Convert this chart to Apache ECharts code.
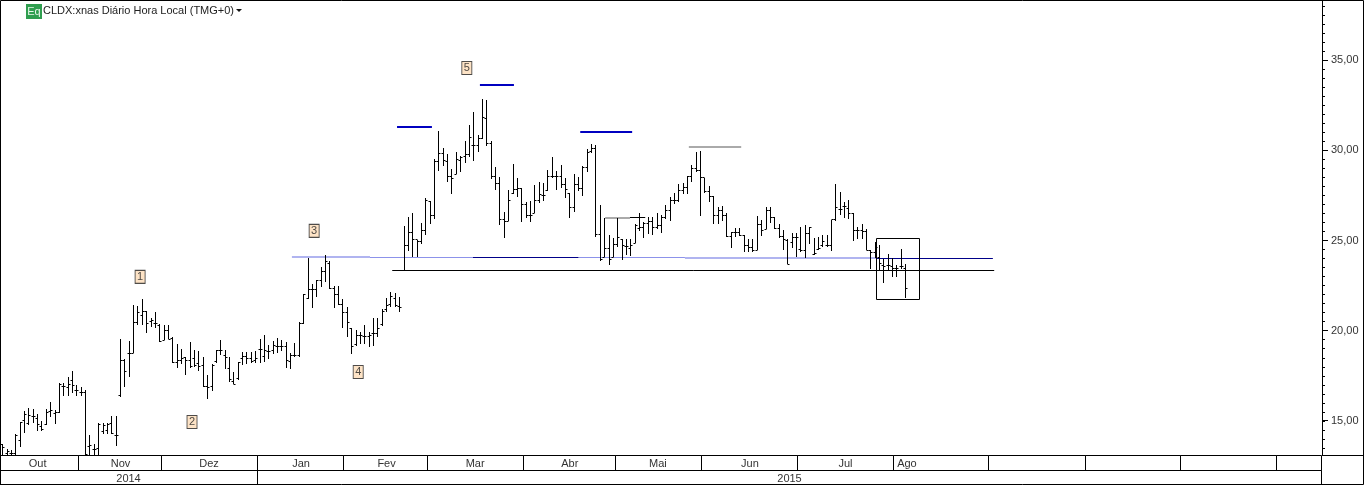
<!DOCTYPE html>
<html><head><meta charset="utf-8">
<style>html,body{margin:0;padding:0;background:#fff}#c{width:1364px;height:485px}</style>
<script src="https://cdn.jsdelivr.net/npm/echarts@6/dist/echarts.min.js"></script>
</head><body><div id="c"></div>
<script>
const highs=[13.71,13.44,13.38,14.27,14.95,15.54,15.69,15.65,15.41,15.0,
15.64,16.04,15.6,17.08,17.08,17.45,17.76,16.98,16.86,16.74,
14.21,13.7,14.86,14.9,14.9,15.28,15.28,19.53,18.41,19.42,
21.42,21.36,21.75,21.11,20.72,21.01,20.35,20.31,20.31,19.66,
19.26,18.96,18.56,19.35,18.92,18.87,18.52,17.54,18.13,18.92,
19.48,18.92,18.52,17.72,18.28,18.8,18.83,18.83,18.87,19.54,
19.76,19.2,19.45,19.58,19.48,19.39,18.75,19.34,20.46,22.02,
24.01,22.59,22.81,23.51,24.2,23.86,22.5,22.5,21.76,21.29,
20.13,20.04,19.95,20.32,19.95,20.69,20.69,21.18,21.83,22.16,
22.07,21.85,25.8,26.28,26.5,25.03,25.95,27.34,27.19,29.52,
31.07,30.11,29.79,28.99,29.89,29.68,30.51,31.4,32.1,30.85,
32.82,32.79,30.51,29.05,28.54,26.56,27.8,29.22,28.45,27.89,
27.11,27.19,28.08,28.22,28.17,28.91,29.61,28.87,29.18,28.45,
27.61,28.67,28.5,29.13,30.07,30.33,30.27,26.97,26.23,25.3,
25.12,26.23,25.08,25.08,25.08,25.89,26.5,26.0,26.28,26.28,
26.5,26.41,26.98,27.39,27.66,28.11,28.16,28.57,29.18,29.88,
29.96,28.48,28.0,27.48,26.83,26.91,26.5,25.48,25.67,25.72,
25.3,25.06,25.11,26.35,26.13,26.83,26.87,26.28,25.9,25.58,
25.07,25.4,25.4,25.77,25.86,25.77,25.15,25.21,25.31,25.3,
26.14,28.13,27.67,27.12,27.25,26.54,25.73,25.9,25.62,24.47,
24.94,24.75,23.98,24.25,24.01,23.64,24.53,23.68];
const lows=[13.0,13.0,13.0,13.0,13.57,14.34,14.77,14.86,14.45,14.45,
14.77,15.23,14.82,15.45,16.37,16.37,16.56,16.37,16.37,13.0,
13.0,13.1,13.1,14.3,14.3,14.25,13.62,16.34,16.86,17.45,
18.74,20.31,20.31,19.85,20.18,20.13,19.39,19.48,19.52,18.19,
17.96,18.13,17.54,17.96,18.0,17.78,16.89,16.21,16.67,18.22,
18.65,17.87,17.17,17.02,17.26,18.09,18.15,18.19,18.22,18.19,
18.28,18.43,18.69,18.75,18.87,17.95,17.88,18.56,18.56,20.35,
21.76,21.28,21.89,22.44,22.72,22.29,21.28,21.42,20.17,19.67,
18.69,19.17,19.24,19.26,19.11,19.17,19.67,20.28,21.05,21.29,
21.33,21.02,23.36,24.42,24.1,24.07,24.8,25.3,25.91,26.19,
28.87,29.15,28.26,27.58,28.67,28.81,29.31,29.65,29.42,29.92,
30.63,30.24,28.39,27.8,25.86,25.16,26.08,27.58,27.43,26.04,
26.23,26.04,26.5,27.06,27.21,27.76,28.45,27.8,27.93,27.34,
26.26,26.6,27.76,27.48,28.81,29.83,25.21,23.88,24.07,23.64,
24.07,24.66,23.92,24.19,24.15,24.84,25.52,25.15,25.36,25.3,
25.61,25.43,26.17,26.09,27.0,27.15,27.55,27.55,28.26,28.81,
26.37,27.61,27.15,25.91,25.91,26.09,25.17,24.6,25.21,25.24,
24.37,24.37,24.37,24.47,25.24,25.63,25.95,25.63,25.12,24.48,
23.68,24.57,24.1,24.38,24.01,24.79,24.2,24.45,24.66,24.66,
24.44,26.1,26.41,26.23,26.19,24.99,25.07,25.07,24.47,23.42,
24.01,23.37,22.63,23.37,22.96,23.0,23.4,21.83];
const opens=[13.71,13.2,13.2,13.2,13.9,15.05,14.86,15.23,15.14,14.67,
14.8,15.5,15.41,15.47,16.89,16.85,17.26,16.71,16.56,16.56,
13.6,13.42,13.47,14.43,14.49,14.86,14.21,16.43,18.33,18.74,
18.74,20.46,20.87,21.05,20.5,20.4,20.31,19.48,20.03,19.57,
18.22,18.37,18.52,18.37,18.46,18.18,18.09,16.93,16.89,18.28,
18.92,18.65,17.91,17.17,17.35,18.46,18.56,18.46,18.37,18.97,
18.56,18.84,18.93,19.15,19.11,19.11,18.28,18.62,18.62,20.41,
21.79,22.31,22.26,22.81,23.27,23.73,22.35,21.98,21.46,21.02,
20.1,19.21,19.76,19.67,19.67,19.82,19.85,20.32,21.15,21.46,
21.79,21.33,23.36,24.71,25.43,25.03,24.93,25.58,27.15,26.41,
29.37,29.83,29.37,28.57,28.67,29.46,29.68,29.78,30.29,30.29,
30.66,31.77,30.35,28.54,28.17,26.19,26.08,27.58,27.84,27.89,
26.97,26.41,26.5,27.24,27.52,27.76,28.57,28.57,28.57,28.11,
27.61,26.82,28.08,27.89,29.05,29.92,30.11,25.34,24.07,24.56,
24.07,24.79,25.08,24.66,24.56,24.84,25.67,25.72,25.95,26.04,
25.71,25.82,26.28,26.68,27.2,27.2,27.79,27.94,28.53,28.99,
28.87,28.48,27.7,27.42,26.41,26.68,26.41,25.21,25.43,25.43,
25.3,24.74,24.62,24.47,25.89,25.63,26.68,26.28,25.67,25.2,
25.02,24.9,25.15,24.5,24.43,25.39,24.2,24.5,24.7,24.75,
24.7,26.14,26.73,26.88,26.78,26.51,25.58,25.58,25.49,24.47,
24.33,24.07,23.64,23.59,23.55,23.42,23.55,23.46];
const closes=[13.5,13.3,13.2,14.2,14.9,15.38,15.3,15.23,14.82,14.53,
15.45,15.56,15.47,17.04,16.89,17.04,16.98,16.71,16.56,13.14,
13.66,13.42,14.82,14.77,14.8,14.3,14.21,18.33,17.76,18.74,
20.46,20.99,21.05,20.4,20.55,20.4,19.42,20.03,19.53,18.22,
18.33,18.46,18.37,18.0,18.09,18.0,16.89,16.86,18.09,18.89,
18.92,18.52,17.3,17.04,18.22,18.56,18.46,18.28,18.46,18.97,
18.93,18.84,19.2,19.15,19.11,18.34,18.62,18.65,20.41,22.0,
22.31,22.31,22.77,23.27,23.83,22.35,21.98,21.46,21.02,20.46,
19.15,19.76,19.76,19.67,19.76,19.82,20.13,21.05,21.42,21.89,
21.39,21.28,24.71,25.45,25.03,24.93,25.58,27.19,26.41,29.37,
29.83,29.41,28.57,28.45,29.5,29.59,29.78,30.72,30.29,30.66,
31.83,30.35,28.54,28.17,26.19,26.04,27.19,27.84,27.89,26.97,
26.41,26.41,27.24,27.56,27.52,28.57,28.57,28.57,28.11,27.84,
26.82,28.11,27.89,29.05,29.87,30.11,25.34,23.95,24.56,23.95,
24.79,25.17,24.75,24.66,24.71,25.85,25.72,25.95,26.04,25.71,
25.82,26.28,26.68,27.2,27.2,27.79,27.94,28.53,28.99,28.87,
28.5,27.7,27.42,26.41,26.68,26.41,25.21,25.43,25.43,25.3,
24.74,24.62,24.43,25.89,25.58,26.68,26.28,25.67,25.2,25.06,
23.68,25.15,25.15,24.43,25.39,25.73,24.3,24.55,24.94,24.75,
26.14,26.84,26.73,26.88,26.51,25.58,25.58,25.49,24.47,24.33,
24.62,23.74,23.55,23.59,23.46,23.42,23.55,22.35];

const priceLabels=[15,20,25,30,35];
const priceTicks=[];for(let t=13.5;t<=38;t+=0.5)priceTicks.push(t);

const monthNames=['Out','Nov','Dez','Jan','Fev','Mar','Abr','Mai','Jun','Jul','Ago'];
const monthLabelAt=[8,27,47.3,68.4,88,108.3,130,150.2,171.3,193.2,207.3];
const monthEdges=[-0.62,17.3,36.3,58.3,78.2,97.3,119.3,140.4,160.2,182.3,204.3,226.1,248.3,269.9,292.1,302.45];
const yearNames=['2014','2015'];
const yearEdges=[-0.62,58.3,302.45];

const waveLabels=['1','2','3','4','5'];
const waveAt=[31.5,43.4,71.4,81.5,106.4];
const waveValue=[22.98,14.94,25.53,17.71,34.56];

// level lines: [from bar, to bar, price]
const paleThick=[[66.3,84.2,24.07],[156.4,200.3,24.03]];
const paleThin=[[84.2,107.8,24.06],[132,156.4,24.05]];
const navyThin=[[107.8,132,24.06],[200.3,227,24.02]];
const blueHeavy=[[90.4,98.4,31.29],[109.4,117.2,33.62],[132.4,144.3,31.0]];
const greyLevels=[[157.3,169.3,30.18],[138.1,143.8,26.25]];
const blackLevels=[[89.3,227.3,23.34],[143.8,147.3,26.25]];
const boxRange=[[200.3,210.1,25.12,21.74]];

const snap=v=>Math.floor(v)+0.5;
const INK='#000';
const X_MIN=-0.62,X_MAX=302.45;

function barItem(p,api){
  const i=api.value(0);
  const hi=api.coord([i,api.value(2)]),lo=api.coord([i,api.value(3)]);
  const op=api.coord([i,api.value(1)]),cl=api.coord([i,api.value(4)]);
  const x=snap(hi[0]);
  const st={stroke:INK,lineWidth:1};
  return {type:'group',children:[
    {type:'line',shape:{x1:x,y1:Math.round(hi[1]),x2:x,y2:Math.round(lo[1])},style:st},
    {type:'line',shape:{x1:x-2,y1:snap(op[1]),x2:x,y2:snap(op[1])},style:st},
    {type:'line',shape:{x1:x,y1:snap(cl[1]),x2:x+2,y2:snap(cl[1])},style:st}
  ]};
}
function levelSeries(rows,color,width){
  return {type:'custom',xAxisIndex:0,yAxisIndex:0,clip:true,silent:true,z:1,data:rows,
    encode:{x:[0,1],y:2},
    renderItem(p,api){
      const a=api.coord([api.value(0),api.value(2)]),b=api.coord([api.value(1),api.value(2)]);
      const y=width%2?snap(a[1]):Math.round(a[1]);
      return {type:'line',shape:{x1:a[0],y1:y,x2:b[0],y2:y},style:{stroke:color,lineWidth:width}};
    }};
}
function cellSeries(names,edges,at,row,dy){
  const rows=edges.slice(0,-1).map((e,i)=>[e,edges[i+1],names[i]||'',at?(at[i]===undefined?e:at[i]):(e+edges[i+1])/2]);
  return {type:'custom',xAxisIndex:1,yAxisIndex:1,clip:false,silent:true,data:rows,
    encode:{x:[0,1]},
    renderItem(p,api){
      const a=api.coord([api.value(0),row]),b=api.coord([api.value(1),row+1]);
      const c=api.coord([api.value(3),row+0.5]);
      const x0=snap(a[0]),x1=snap(b[0]);
      const y0=snap(a[1]),y1=snap(b[1]);
      return {type:'group',children:[
        {type:'rect',shape:{x:x0,y:y0,width:x1-x0,height:y1-y0},style:{fill:'none',stroke:INK,lineWidth:1}},
        {type:'text',style:{x:c[0],y:c[1]+dy,text:rows[p.dataIndex][2],fill:'#333',font:'11px "Liberation Sans"',align:'center',verticalAlign:'middle'}}
      ]};
    }};
}

const chart=echarts.init(document.getElementById('c'),null,{renderer:'canvas'});
chart.setOption({
  animation:false,backgroundColor:'#fff',
  grid:[{left:0,top:0,width:1322,height:455},{left:0,top:455,width:1322,height:30}],
  xAxis:[
    {type:'value',gridIndex:0,min:X_MIN,max:X_MAX,show:false},
    {type:'value',gridIndex:1,min:X_MIN,max:X_MAX,show:false}
  ],
  yAxis:[
    {type:'value',gridIndex:0,position:'right',min:13.11,max:38.33,splitLine:{show:false},
      axisLine:{show:true,onZero:false,lineStyle:{color:INK}},
      axisTick:{show:true,length:3,lineStyle:{color:INK},customValues:priceTicks},
      axisLabel:{show:true,margin:9,color:'#333',fontFamily:'Liberation Sans',fontSize:11,
        customValues:priceLabels,formatter:v=>v.toFixed(2).replace('.',',')}},
    {type:'value',gridIndex:1,position:'left',min:0,max:2,inverse:true,show:false}
  ],
  series:[
    levelSeries(paleThick,'#b0b4f0',2),
    levelSeries(paleThin,'#8c92ea',1),
    levelSeries(navyThin,'#000088',1),
    levelSeries(blueHeavy,'#0000c0',2),
    levelSeries(greyLevels,'#aaaaaa',2),
    levelSeries(blackLevels,INK,1),
    {type:'custom',xAxisIndex:0,yAxisIndex:0,clip:false,silent:true,z:3,data:priceLabels.map(v=>[X_MAX,v]),encode:{x:0,y:1},
      renderItem(p,api){
        const a=api.coord([api.value(0),api.value(1)]);
        const y=snap(a[1]);
        return {type:'line',shape:{x1:a[0],y1:y,x2:a[0]+6,y2:y},style:{stroke:INK,lineWidth:1}};
      }},
    {type:'custom',xAxisIndex:0,yAxisIndex:0,clip:true,silent:true,z:3,
      data:highs.map((h,i)=>[i,opens[i],h,lows[i],closes[i]]),encode:{x:0,y:[1,2,3,4]},renderItem:barItem},
    {type:'custom',xAxisIndex:0,yAxisIndex:0,clip:true,silent:true,z:2,data:boxRange,encode:{x:[0,1],y:[2,3]},
      renderItem(p,api){
        const a=api.coord([api.value(0),api.value(2)]),b=api.coord([api.value(1),api.value(3)]);
        const x=snap(a[0]),y=snap(a[1]);
        return {type:'rect',shape:{x,y,width:snap(b[0])-x,height:snap(b[1])-y},style:{fill:'none',stroke:INK,lineWidth:1}};
      }},
    {type:'scatter',xAxisIndex:0,yAxisIndex:0,silent:true,z:4,symbol:'rect',symbolSize:[10,13],
      data:waveLabels.map((t,i)=>({value:[waveAt[i],waveValue[i]],name:t})),
      itemStyle:{color:'#fddcb8',borderColor:'#222',borderWidth:1},
      label:{show:true,position:'inside',formatter:d=>d.name,color:'#222',fontFamily:'Liberation Sans',fontSize:11}},
    cellSeries(monthNames,monthEdges,monthLabelAt,0,1),
    cellSeries(yearNames,yearEdges,null,1,1)
  ],
  graphic:[
    {type:'rect',silent:true,z:50,shape:{x:0.5,y:0.5,width:1363,height:484},style:{fill:'none',stroke:INK,lineWidth:1}},
    {type:'line',silent:true,z:50,shape:{x1:1322,y1:455.5,x2:1364,y2:455.5},style:{stroke:INK,lineWidth:1}},
    {type:'rect',silent:true,z:50,shape:{x:26,y:4,width:16,height:15},style:{fill:'#2f9e4f'}},
    {type:'text',silent:true,z:51,style:{x:34,y:12,text:'Eq',fill:'#e8f8ea',font:'11px "Liberation Sans"',align:'center',verticalAlign:'middle'}},
    {type:'text',silent:true,z:51,style:{x:43,y:11,text:'CLDX:xnas Diário Hora Local (TMG+0)',fill:'#222',font:'11px "Liberation Sans"',align:'left',verticalAlign:'middle'}},
    {type:'polygon',silent:true,z:51,shape:{points:[[236,9],[242,9],[239,12]]},style:{fill:'#111'}}
  ]
});
</script></body></html>
